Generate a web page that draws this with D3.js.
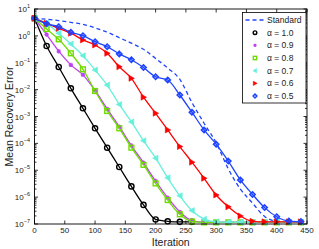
<!DOCTYPE html>
<html><head><meta charset="utf-8">
<script src="https://cdn.jsdelivr.net/npm/d3@7"></script>
<style>body{margin:0;background:#fff}svg{display:block;font-family:"Liberation Sans",Arial,sans-serif}</style>
</head><body><svg id="c" width="319" height="249"></svg>
<script>
// Iterations sampled every 20 (marker positions)
const iterations = [0,20,40,60,80,100,120,140,160,180,200,220,240,260,280,300,320,340,360,380,400,420,440];
// log10 of mean recovery error
const stdLog  = [0.654,0.62,0.57,0.50,0.43,0.30,0.14,-0.07,-0.27,-0.50,-0.84,-1.20,-1.62,-2.48,-3.25,-3.98,-4.95,-5.70,-6.22,-6.72,-6.90,-6.93,-6.93];
const a10Log  = [0.654,-0.377,-1.158,-1.951,-2.695,-3.439,-4.161,-4.879,-5.60,-6.29,-6.83,-6.90,-6.92,-6.92];
const a09Log  = [0.654,0.05,-0.57,-1.08,-1.45,-2.03,-2.72,-3.38,-4.08,-4.72,-5.40,-6.02,-6.55,-6.87,-6.93,-6.93,-6.93,-6.93,-6.93,-6.93,-6.93,-6.93,-6.93];
const a08Log  = [0.654,0.256,-0.127,-0.648,-1.244,-2.05,-2.795,-3.44,-4.16,-4.80,-5.49,-6.11,-6.64,-6.91,-6.94,-6.94,-6.94,-6.94,-6.94,-6.94,-6.94,-6.94,-6.94];
const a07Log  = [0.654,0.467,0.096,-0.302,-0.737,-1.27,-1.83,-2.55,-3.2,-3.9,-4.55,-5.28,-5.95,-6.5,-6.82,-6.92,-6.93,-6.93,-6.93,-6.93,-6.93,-6.93,-6.93];
const a06Log  = [0.654,0.47,0.28,0.10,-0.15,-0.34,-0.65,-1.15,-1.58,-2.28,-2.88,-3.5,-4.12,-4.70,-5.3,-5.92,-6.36,-6.7,-6.9,-6.92,-6.92,-6.92,-6.92];
const a05Log  = [0.654,0.45,0.34,0.133,0.006,-0.217,-0.403,-0.67,-0.89,-1.18,-1.52,-1.64,-2.2,-2.84,-3.5,-4.03,-4.66,-5.36,-5.9,-6.39,-6.73,-6.89,-6.91];
const xTicks = [0,50,100,150,200,250,300,350,400,450];
const yExps = [1,0,-1,-2,-3,-4,-5,-6,-7];
const legendLabels = ["Standard","\u03b1 = 1.0","\u03b1 = 0.9","\u03b1 = 0.8","\u03b1 = 0.7","\u03b1 = 0.6","\u03b1 = 0.5"];

const series = [
  {name:legendLabels[0], vals:stdLog, color:"#1f44ff", dash:"4,3", marker:null},
  {name:legendLabels[1], vals:a10Log, color:"#000000", marker:"circle"},
  {name:legendLabels[2], vals:a09Log, color:"#bb44f0", marker:"star"},
  {name:legendLabels[3], vals:a08Log, color:"#6fdc00", marker:"square"},
  {name:legendLabels[4], vals:a07Log, color:"#66f0dc", marker:"tril"},
  {name:legendLabels[5], vals:a06Log, color:"#ff0000", marker:"trir"},
  {name:legendLabels[6], vals:a05Log, color:"#1f44ff", marker:"diamond"}
];

const svg = d3.select("#c");
const L=34.5, R=307, T=9, B=224;
const x = d3.scaleLinear().domain([0,450]).range([L,R]);
const y = d3.scaleLog().domain([1e-7,10]).range([B,T]);

svg.append("rect").attr("x",L).attr("y",T).attr("width",R-L).attr("height",B-T).attr("fill","#fff");

const g = svg.append("g");
const line = d3.line().x(d=>x(d[0])).y(d=>y(d[1])).curve(d3.curveMonotoneX);

function drawMarker(sel, type, color, s){
  s = s||1;
  if(type==="circle"){
    sel.append("circle").attr("r",2.6*s).attr("fill","none").attr("stroke",color).attr("stroke-width",1.4);
  } else if(type==="star"){
    const a=2.2*s, b=1.6*s;
    sel.append("path").attr("d",`M${-a},0H${a}M0,${-a}V${a}M${-b},${-b}L${b},${b}M${-b},${b}L${b},${-b}`).attr("stroke",color).attr("stroke-width",1.1);
  } else if(type==="square"){
    const a=2.4*s;
    sel.append("rect").attr("x",-a).attr("y",-a).attr("width",2*a).attr("height",2*a).attr("fill","none").attr("stroke",color).attr("stroke-width",1.4);
  } else if(type==="tril"){
    sel.append("path").attr("d",`M${-3*s},0L${2.4*s},${-3*s}L${2.4*s},${3*s}Z`).attr("fill",color).attr("stroke",color).attr("stroke-width",0.6);
  } else if(type==="trir"){
    sel.append("path").attr("d",`M${3*s},0L${-2.4*s},${-3*s}L${-2.4*s},${3*s}Z`).attr("fill",color).attr("stroke",color).attr("stroke-width",0.6);
  } else if(type==="diamond"){
    const a=2.7*s;
    sel.append("path").attr("d",`M0,${-a}L${a},0L0,${a}L${-a},0Z`).attr("fill",s<1?"none":color).attr("fill-opacity",0.35).attr("stroke",color).attr("stroke-width",1.5);
  }
}

series.forEach(s=>{
  const pts = s.vals.map((v,i)=>[iterations[i], Math.pow(10,v)]);
  g.append("path").attr("d",line(pts)).attr("fill","none").attr("stroke",s.color)
    .attr("stroke-width",1.3).attr("stroke-dasharray",s.dash||null);
  if(s.marker){
    pts.forEach(p=>{
      const m = g.append("g").attr("transform",`translate(${x(p[0])},${y(p[1])})`);
      drawMarker(m, s.marker, s.color, 1);
    });
  }
});

// Axes box and ticks (MATLAB style, inward, mirrored)
const ax = svg.append("g").attr("stroke","#000").attr("stroke-width",0.8);
xTicks.forEach(t=>{
  ax.append("line").attr("x1",x(t)).attr("x2",x(t)).attr("y1",B).attr("y2",B-3.5);
  ax.append("line").attr("x1",x(t)).attr("x2",x(t)).attr("y1",T).attr("y2",T+3.5);
});
yExps.forEach(e=>{
  const yy=y(Math.pow(10,e));
  ax.append("line").attr("x1",L).attr("x2",L+3.5).attr("y1",yy).attr("y2",yy);
  ax.append("line").attr("x1",R).attr("x2",R-3.5).attr("y1",yy).attr("y2",yy);
  if(e>-7){
    for(let k=2;k<=9;k++){
      const ym=y(k*Math.pow(10,e-1));
      ax.append("line").attr("x1",L).attr("x2",L+2).attr("y1",ym).attr("y2",ym);
      ax.append("line").attr("x1",R).attr("x2",R-2).attr("y1",ym).attr("y2",ym);
    }
  }
});
svg.append("rect").attr("x",L).attr("y",T).attr("width",R-L).attr("height",B-T)
  .attr("fill","none").attr("stroke","#000").attr("stroke-width",0.9);

// tick labels
xTicks.forEach(t=>{
  svg.append("text").attr("x",x(t)).attr("y",232.5).attr("text-anchor","middle")
    .attr("font-size",8).attr("fill","#222").text(t);
});
yExps.forEach(e=>{
  const tx = svg.append("text").attr("x",30).attr("y",y(Math.pow(10,e))+3)
    .attr("text-anchor","end").attr("font-size",8).attr("fill","#222");
  tx.append("tspan").text("10");
  tx.append("tspan").attr("dy",-4).attr("font-size",5.5).text(e<0?"\u2212"+(-e):e);
});

svg.append("text").attr("x",(L+R)/2).attr("y",245.5).attr("text-anchor","middle")
  .attr("font-size",10.5).attr("fill","#222").text("Iteration");
svg.append("text").attr("transform",`translate(12.5,${(T+B)/2}) rotate(-90)`)
  .attr("text-anchor","middle").attr("font-size",10.5).attr("fill","#222").text("Mean Recovery Error");

// legend
const lg = svg.append("g");
lg.append("rect").attr("x",242.5).attr("y",12.5).attr("width",63.5).attr("height",90.5)
  .attr("fill","#fff").attr("stroke","#000").attr("stroke-width",0.8);
series.forEach((s,i)=>{
  const yy = 20 + i*12.67;
  if(s.marker){
    const m = lg.append("g").attr("transform",`translate(255,${yy})`);
    drawMarker(m, s.marker, s.color, 0.7);
  } else {
    lg.append("line").attr("x1",245.5).attr("x2",265).attr("y1",yy).attr("y2",yy)
      .attr("stroke",s.color).attr("stroke-width",1.3).attr("stroke-dasharray","4,3");
  }
  lg.append("text").attr("x",267).attr("y",yy+3).attr("font-size",8.5).attr("fill","#222").text(s.name);
});
</script></body></html>
